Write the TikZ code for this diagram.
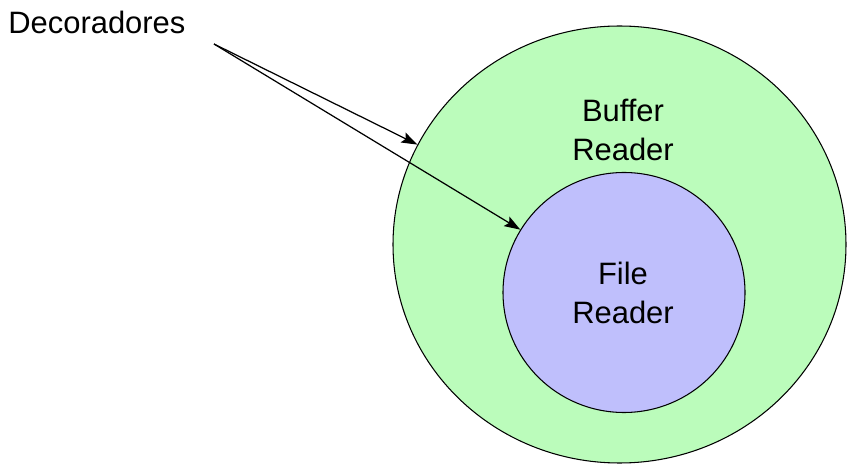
\documentclass[tikz,border=0pt]{standalone}
\usepackage{fontspec}
\setmainfont{Liberation Sans}
\usepackage{tikz}
\usetikzlibrary{shapes.geometric,arrows.meta,positioning}
\definecolor{bufferGreen}{RGB}{187,252,187}
\definecolor{readerBlue}{RGB}{191,191,252}

\begin{document}
\begin{tikzpicture}[
  layer/.style={ellipse,draw=black,line width=0.6pt,fill=#1,inner sep=0pt},
  lbl/.style={font=\fontsize{17.6}{22.2}\selectfont,align=center,inner sep=0pt},
  arrow/.style={-{Stealth[length=0.32cm,width=0.22cm,inset=0.06cm]},line width=0.7pt}
]
\useasboundingbox (0,0) rectangle (16.94,9.32);
% Outer decorator
\node[layer=bufferGreen,minimum width=9.06cm,minimum height=8.74cm] (buf) at (12.39,4.43) {};
\node[lbl] (bufTxt) at (12.46,6.72) {Buffer\\Reader};
% Inner component
\node[layer=readerBlue,minimum width=4.84cm,minimum height=4.80cm] (file) at (12.48,3.47) {};
\node[lbl] (fileTxt) at (12.46,3.46) {File\\Reader};
% Label and arrows
\node[lbl,anchor=base west] (deco) at (0.16,8.64) {Decoradores};
\coordinate (src) at (4.28,8.44);
\foreach \x in {buf,file}
  \draw[arrow] (src) -- (\x);
\end{tikzpicture}
\end{document}
